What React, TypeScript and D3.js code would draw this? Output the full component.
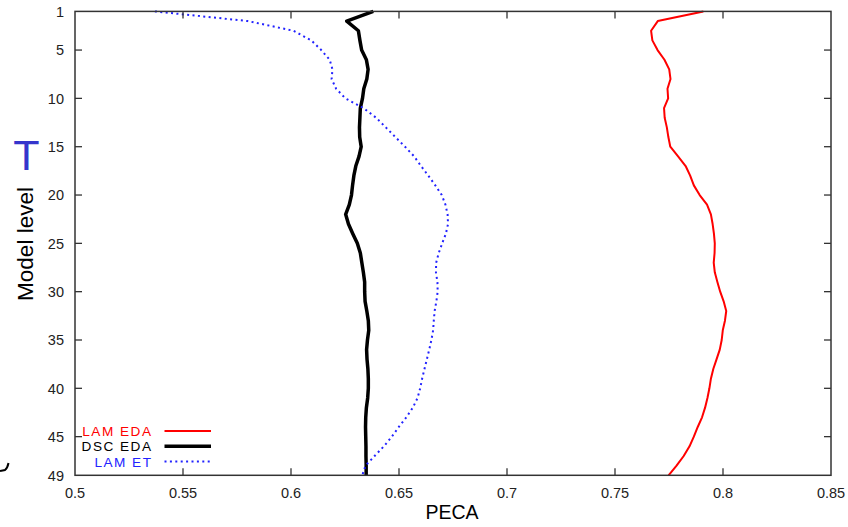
import React from "react";
import * as d3 from "d3";

const levels = d3.range(1, 50);
const lamEda = [0.7909, 0.7698, 0.7667, 0.7673, 0.7697, 0.7729, 0.7751, 0.7757, 0.7743, 0.7746,
  0.7727, 0.7730, 0.7740, 0.7747, 0.7756, 0.7792, 0.7827, 0.7848, 0.7865, 0.7892,
  0.7926, 0.7944, 0.7952, 0.7958, 0.7962, 0.7961, 0.7957, 0.7962, 0.7974, 0.7987,
  0.8003, 0.8015, 0.8009, 0.7999, 0.7994, 0.7985, 0.7970, 0.7955, 0.7944, 0.7937,
  0.7928, 0.7917, 0.7903, 0.7883, 0.7865, 0.7845, 0.7818, 0.7785, 0.7748];
const dscEda = [0.6381, 0.6258, 0.6312, 0.6319, 0.6327, 0.6349, 0.6357, 0.6351, 0.6337, 0.6331,
  0.6321, 0.6319, 0.6317, 0.6318, 0.6325, 0.6315, 0.6300, 0.6291, 0.6285, 0.6280,
  0.6270, 0.6253, 0.6266, 0.6286, 0.6307, 0.6321, 0.6328, 0.6335, 0.6341, 0.6341,
  0.6343, 0.6351, 0.6358, 0.6360, 0.6354, 0.6350, 0.6352, 0.6356, 0.6358, 0.6358,
  0.6355, 0.6349, 0.6346, 0.6345, 0.6346, 0.6347, 0.6347, 0.6348, 0.6348];
const lamEt = [0.5370, 0.5800, 0.6011, 0.6094, 0.6140, 0.6179, 0.6192, 0.6188, 0.6209, 0.6252,
  0.6335, 0.6394, 0.6439, 0.6483, 0.6528, 0.6570, 0.6602, 0.6636, 0.6668, 0.6698,
  0.6715, 0.6725, 0.6727, 0.6717, 0.6700, 0.6684, 0.6672, 0.6671, 0.6678, 0.6679,
  0.6673, 0.6665, 0.6661, 0.6658, 0.6650, 0.6640, 0.6629, 0.6618, 0.6607, 0.6598,
  0.6586, 0.6564, 0.6534, 0.6499, 0.6467, 0.6430, 0.6387, 0.6345, 0.6330];

const xTicks = [0.5, 0.55, 0.6, 0.65, 0.7, 0.75, 0.8, 0.85];
const yTicks = [1, 5, 10, 15, 20, 25, 30, 35, 40, 45, 49];
const legendNames = ["LAM EDA", "DSC EDA", "LAM ET"];

const FONT = "'Liberation Sans', Arial, Helvetica, sans-serif";

export default function App() {
  const W = 848, H = 527;
  const left = 75, right = 831, top = 11.4, bottom = 475.3;
  const x = d3.scaleLinear().domain([0.5, 0.85]).range([left, right]);
  const y = d3.scaleLinear().domain([1, 49]).range([top, bottom]);

  const mk = (vals: number[]) =>
    d3.line<number>().x((v) => x(v)).y((_, i) => y(levels[i]))(vals) || "";

  const series = [
    { name: legendNames[0], vals: lamEda, color: "#ff0000", width: 2, dash: undefined as string | undefined },
    { name: legendNames[1], vals: dscEda, color: "#000000", width: 3.5, dash: undefined },
    { name: legendNames[2], vals: lamEt, color: "#2222ff", width: 2, dash: "2 3.4" },
  ];

  const tickLen = 7;
  const axisColor = "#333";

  return (
    <svg width={W} height={H} style={{ position: "absolute", left: 0, top: 0, background: "#fff" }}>
      <rect width={W} height={H} fill="#fff" />
      {series.map((s) => (
        <path key={s.name} d={mk(s.vals)} fill="none" stroke={s.color} strokeWidth={s.width}
          strokeDasharray={s.dash} strokeLinejoin="round" />
      ))}
      <rect x={left} y={top} width={right - left} height={bottom - top} fill="none" stroke={axisColor} strokeWidth={1.5} />
      {xTicks.map((t) => (
        <g key={"x" + t}>
          {t > 0.5 && t < 0.85 && (
            <>
              <line x1={x(t)} x2={x(t)} y1={bottom} y2={bottom - tickLen} stroke={axisColor} strokeWidth={1.3} />
              <line x1={x(t)} x2={x(t)} y1={top} y2={top + tickLen} stroke={axisColor} strokeWidth={1.3} />
            </>
          )}
          <text x={x(t)} y={497.5} textAnchor="middle" fontFamily={FONT} fontSize={14.5} fill="#222">
            {String(t)}
          </text>
        </g>
      ))}
      {yTicks.map((t) => (
        <g key={"y" + t}>
          {t > 1 && t < 49 && (
            <>
              <line x1={left} x2={left + tickLen} y1={y(t)} y2={y(t)} stroke={axisColor} strokeWidth={1.3} />
              <line x1={right} x2={right - tickLen} y1={y(t)} y2={y(t)} stroke={axisColor} strokeWidth={1.3} />
            </>
          )}
          <text x={64} y={y(t) + 5.3} textAnchor="end" fontFamily={FONT} fontSize={14.5} fill="#222">
            {t}
          </text>
        </g>
      ))}
      <text x={452} y={519} textAnchor="middle" fontFamily={FONT} fontSize={19.5} fill="#000">PECA</text>
      <text transform="translate(33,244) rotate(-90)" textAnchor="middle" fontFamily={FONT} fontSize={22.5} fill="#000">
        Model level
      </text>
      <text x={26.5} y={170} textAnchor="middle" fontFamily={FONT} fontSize={43} fill="#3535cc">T</text>
      {series.map((s, i) => {
        const ly = 431 + i * 15.3;
        return (
          <g key={"lg" + s.name}>
            <text x={152.5} y={ly + 4.9} textAnchor="end" fontFamily={FONT} fontSize={13.6} letterSpacing={1.5} fill={s.color}>{s.name}</text>
            <line x1={164.5} x2={211} y1={ly} y2={ly} stroke={s.color} strokeWidth={s.width} strokeDasharray={s.dash} />
          </g>
        );
      })}
      <path d="M0,471 L5,470 Q7.5,468 8.5,463" fill="none" stroke="#000" strokeWidth={2} />
    </svg>
  );
}
